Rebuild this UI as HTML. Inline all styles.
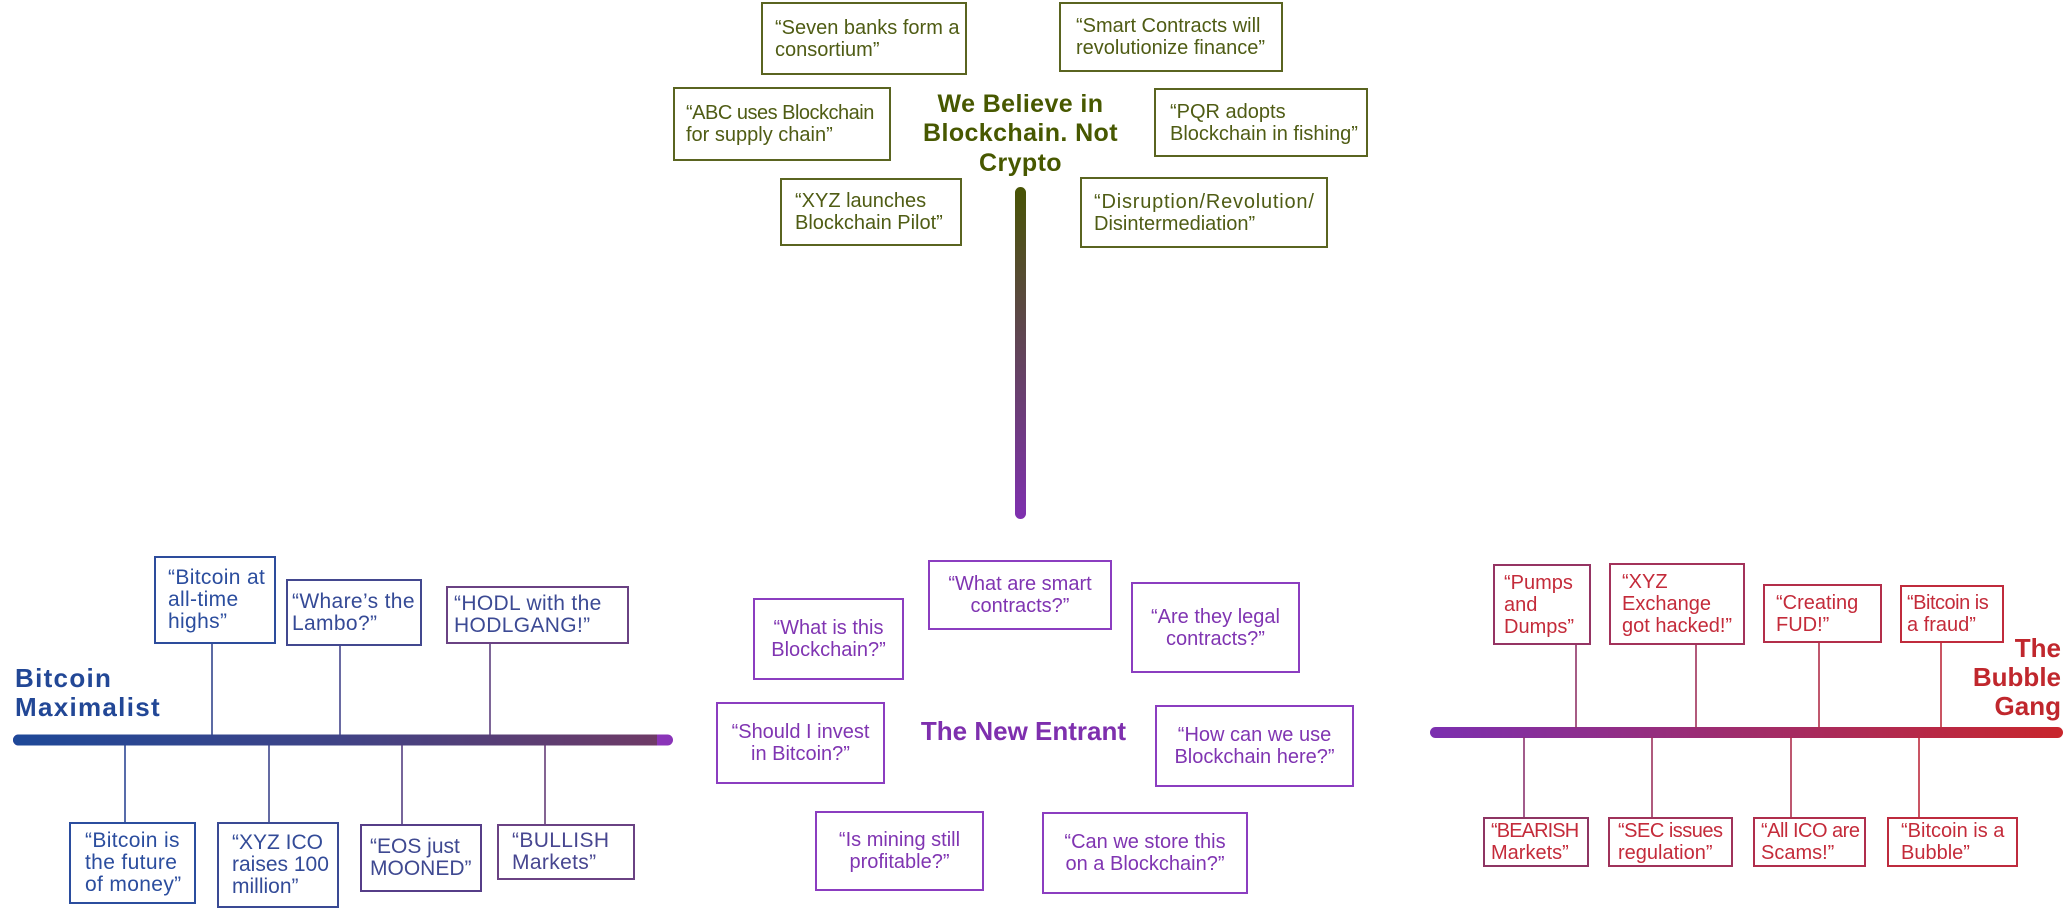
<!DOCTYPE html>
<html>
<head>
<meta charset="utf-8">
<style>
  html, body { margin:0; padding:0; background:#ffffff; }
  body { width:2067px; height:919px; position:relative; overflow:hidden;
         font-family:"Liberation Sans", Arial, sans-serif; }
  .b { position:absolute; box-sizing:border-box; border:2px solid; display:flex;
       align-items:center; padding:0 6px 0 12px; font-size:20px; line-height:22px;
       white-space:nowrap; background:#fff; }
  .c { justify-content:center; text-align:center; padding:0 4px; }
  .o { border-color:#5a6420; color:#4f5c14; }
  .p { border-color:#8b3dc0; color:#8035b2; }
  .l { font-size:21px; letter-spacing:0.35px; }
  .r { color:#c42b3a; }
  .t { position:absolute; font-weight:bold; white-space:nowrap; }
  .n { letter-spacing:-0.5px; }
  svg { position:absolute; left:0; top:0; }
</style>
</head>
<body>
<svg width="2067" height="919" viewBox="0 0 2067 919">
  <defs>
    <linearGradient id="gl" x1="13" y1="0" x2="657" y2="0" gradientUnits="userSpaceOnUse">
      <stop offset="0" stop-color="#1e4898"/>
      <stop offset="0.5" stop-color="#3f4386"/>
      <stop offset="1" stop-color="#6e3a66"/>
    </linearGradient>
    <linearGradient id="gr" x1="1430" y1="0" x2="2063" y2="0" gradientUnits="userSpaceOnUse">
      <stop offset="0" stop-color="#7b2fb0"/>
      <stop offset="0.5" stop-color="#a02c6a"/>
      <stop offset="1" stop-color="#c8262c"/>
    </linearGradient>
    <linearGradient id="gv" x1="0" y1="187" x2="0" y2="519" gradientUnits="userSpaceOnUse">
      <stop offset="0" stop-color="#485404"/>
      <stop offset="0.5" stop-color="#62445a"/>
      <stop offset="1" stop-color="#7f30b0"/>
    </linearGradient>
  </defs>

  <!-- vertical bar -->
  <rect x="1015" y="187" width="11" height="332" rx="5.5" fill="url(#gv)"/>

  <!-- left bar -->
  <rect x="13" y="734.5" width="660" height="11" rx="5.5" fill="#8a34b8"/>
  <path d="M18.5,734.5 H657 V745.5 H18.5 A5.5,5.5 0 0 1 18.5,734.5 Z" fill="url(#gl)"/>

  <!-- right bar -->
  <rect x="1430" y="727" width="633" height="11" rx="5.5" fill="url(#gr)"/>

  <!-- left connectors -->
  <g stroke-width="1.6" fill="none">
    <line x1="212" y1="644" x2="212" y2="735" stroke="#34468e"/>
    <line x1="340" y1="646" x2="340" y2="735" stroke="#45468c"/>
    <line x1="490" y1="644" x2="490" y2="735" stroke="#5e3f7e"/>
    <line x1="125" y1="745" x2="125" y2="822" stroke="#2e4894"/>
    <line x1="269" y1="745" x2="269" y2="822" stroke="#3d468c"/>
    <line x1="402" y1="745" x2="402" y2="824" stroke="#553f82"/>
    <line x1="545" y1="745" x2="545" y2="824" stroke="#653d78"/>
  </g>
  <!-- right connectors -->
  <g stroke-width="1.6" fill="none">
    <line x1="1576" y1="645" x2="1576" y2="728" stroke="#8f3468"/>
    <line x1="1696" y1="645" x2="1696" y2="728" stroke="#a0315a"/>
    <line x1="1819" y1="643" x2="1819" y2="728" stroke="#b02e4a"/>
    <line x1="1941" y1="643" x2="1941" y2="728" stroke="#bd2b3c"/>
    <line x1="1524" y1="737" x2="1524" y2="817" stroke="#8a3470"/>
    <line x1="1652" y1="737" x2="1652" y2="817" stroke="#9c325e"/>
    <line x1="1791" y1="737" x2="1791" y2="817" stroke="#ae2e4c"/>
    <line x1="1919" y1="737" x2="1919" y2="817" stroke="#bd2b3e"/>
  </g>
</svg>

<!-- Top group title -->
<div class="t" style="left:880px; top:89.5px; width:281px; text-align:center; font-size:25px; line-height:29.5px; letter-spacing:0.4px; color:#475800;">We Believe in<br>Blockchain. Not<br>Crypto</div>

<!-- Top boxes (olive) -->
<div class="b o" style="left:761px; top:2px; width:206px; height:73px;"><div>“Seven banks form a<br>consortium”</div></div>
<div class="b o" style="left:1059px; top:2px; width:224px; height:70px; padding-left:15px;"><div>“Smart Contracts will<br>revolutionize finance”</div></div>
<div class="b o" style="left:673px; top:87px; width:218px; height:74px; padding-left:11px;"><div><span style="letter-spacing:-0.5px;">“ABC uses Blockchain</span><br>for supply chain”</div></div>
<div class="b o" style="left:1154px; top:88px; width:214px; height:69px; padding-left:14px;"><div>“PQR adopts<br>Blockchain in fishing”</div></div>
<div class="b o" style="left:780px; top:178px; width:182px; height:68px; padding-left:13px;"><div>“XYZ launches<br>Blockchain Pilot”</div></div>
<div class="b o" style="left:1080px; top:177px; width:248px; height:71px;"><div><span style="letter-spacing:0.8px;">“Disruption/Revolution/</span><br>Disintermediation”</div></div>

<!-- Bitcoin Maximalist -->
<div class="t" style="left:15px; top:663.5px; font-size:26px; line-height:29px; letter-spacing:1.3px; color:#224796;">Bitcoin<br>Maximalist</div>

<div class="b l" style="left:154px; top:556px; width:122px; height:88px; border-color:#2d4c9c; color:#2b4d9e;"><div>“Bitcoin at<br>all-time<br>highs”</div></div>
<div class="b l" style="left:286px; top:579px; width:136px; height:67px; border-color:#43488f; color:#354a96; padding-left:4px;"><div>“Whare’s the<br>Lambo?”</div></div>
<div class="b l" style="left:446px; top:586px; width:183px; height:58px; border-color:#6a4283; color:#3c4a94; padding-left:6px;"><div>“HODL with the<br>HODLGANG!”</div></div>

<div class="b l" style="left:69px; top:822px; width:127px; height:82px; border-color:#2b4d9e; color:#2b4d9e; padding-left:14px;"><div>“Bitcoin is<br>the future<br>of money”</div></div>
<div class="b l" style="left:217px; top:822px; width:122px; height:86px; border-color:#3a4a94; color:#334b98; padding-left:13px; letter-spacing:0;"><div>“XYZ ICO<br>raises 100<br>million”</div></div>
<div class="b l" style="left:360px; top:824px; width:122px; height:68px; border-color:#563e88; color:#3f4991; padding-left:8px; letter-spacing:0;"><div>“EOS just<br>MOONED”</div></div>
<div class="b l" style="left:497px; top:824px; width:138px; height:56px; border-color:#6a4283; color:#474690; padding-left:13px;"><div>“BULLISH<br>Markets”</div></div>

<!-- The New Entrant -->
<div class="t" style="left:900px; top:716px; width:247px; text-align:center; font-size:26px; line-height:30px; color:#7e2fae;">The New Entrant</div>

<div class="b p c" style="left:753px; top:598px; width:151px; height:82px;"><div>“What is this<br>Blockchain?”</div></div>
<div class="b p c" style="left:928px; top:560px; width:184px; height:70px;"><div>“What are smart<br>contracts?”</div></div>
<div class="b p c" style="left:1131px; top:582px; width:169px; height:91px;"><div>“Are they legal<br>contracts?”</div></div>
<div class="b p c" style="left:716px; top:702px; width:169px; height:82px;"><div>“Should I invest<br>in Bitcoin?”</div></div>
<div class="b p c" style="left:1155px; top:705px; width:199px; height:82px;"><div>“How can we use<br>Blockchain here?”</div></div>
<div class="b p c" style="left:815px; top:811px; width:169px; height:80px;"><div>“Is mining still<br>profitable?”</div></div>
<div class="b p c" style="left:1042px; top:812px; width:206px; height:82px;"><div>“Can we store this<br>on a Blockchain?”</div></div>

<!-- The Bubble Gang -->
<div class="t" style="right:6px; top:633.5px; text-align:right; font-size:26px; line-height:29px; color:#c0272d;">The<br>Bubble<br>Gang</div>

<div class="b r" style="left:1493px; top:564px; width:98px; height:81px; border-color:#953463; padding-left:9px;"><div>“Pumps<br>and<br>Dumps”</div></div>
<div class="b r" style="left:1609px; top:563px; width:136px; height:82px; border-color:#a3325a; padding-left:11px;"><div>“XYZ<br>Exchange<br>got hacked!”</div></div>
<div class="b r" style="left:1763px; top:584px; width:119px; height:59px; border-color:#b32e4a; padding-left:11px;"><div>“Creating<br>FUD!”</div></div>
<div class="b r" style="left:1900px; top:585px; width:104px; height:58px; border-color:#c02b3c; padding-left:5px;"><div><span class="n">“Bitcoin is</span><br>a fraud”</div></div>

<div class="b r" style="left:1483px; top:817px; width:106px; height:50px; border-color:#8e3563; padding-left:6px;"><div><span style="letter-spacing:-0.9px;">“BEARISH</span><br>Markets”</div></div>
<div class="b r" style="left:1608px; top:817px; width:125px; height:50px; border-color:#a0325a; padding-left:8px;"><div><span style="letter-spacing:-0.5px;">“SEC issues</span><br>regulation”</div></div>
<div class="b r" style="left:1753px; top:817px; width:113px; height:50px; border-color:#b02e4c; padding-left:6px;"><div><span style="letter-spacing:-0.5px;">“All ICO are</span><br>Scams!”</div></div>
<div class="b r" style="left:1887px; top:817px; width:131px; height:50px; border-color:#be2b3e; padding-left:12px;"><div>“Bitcoin is a<br>Bubble”</div></div>

</body>
</html>
